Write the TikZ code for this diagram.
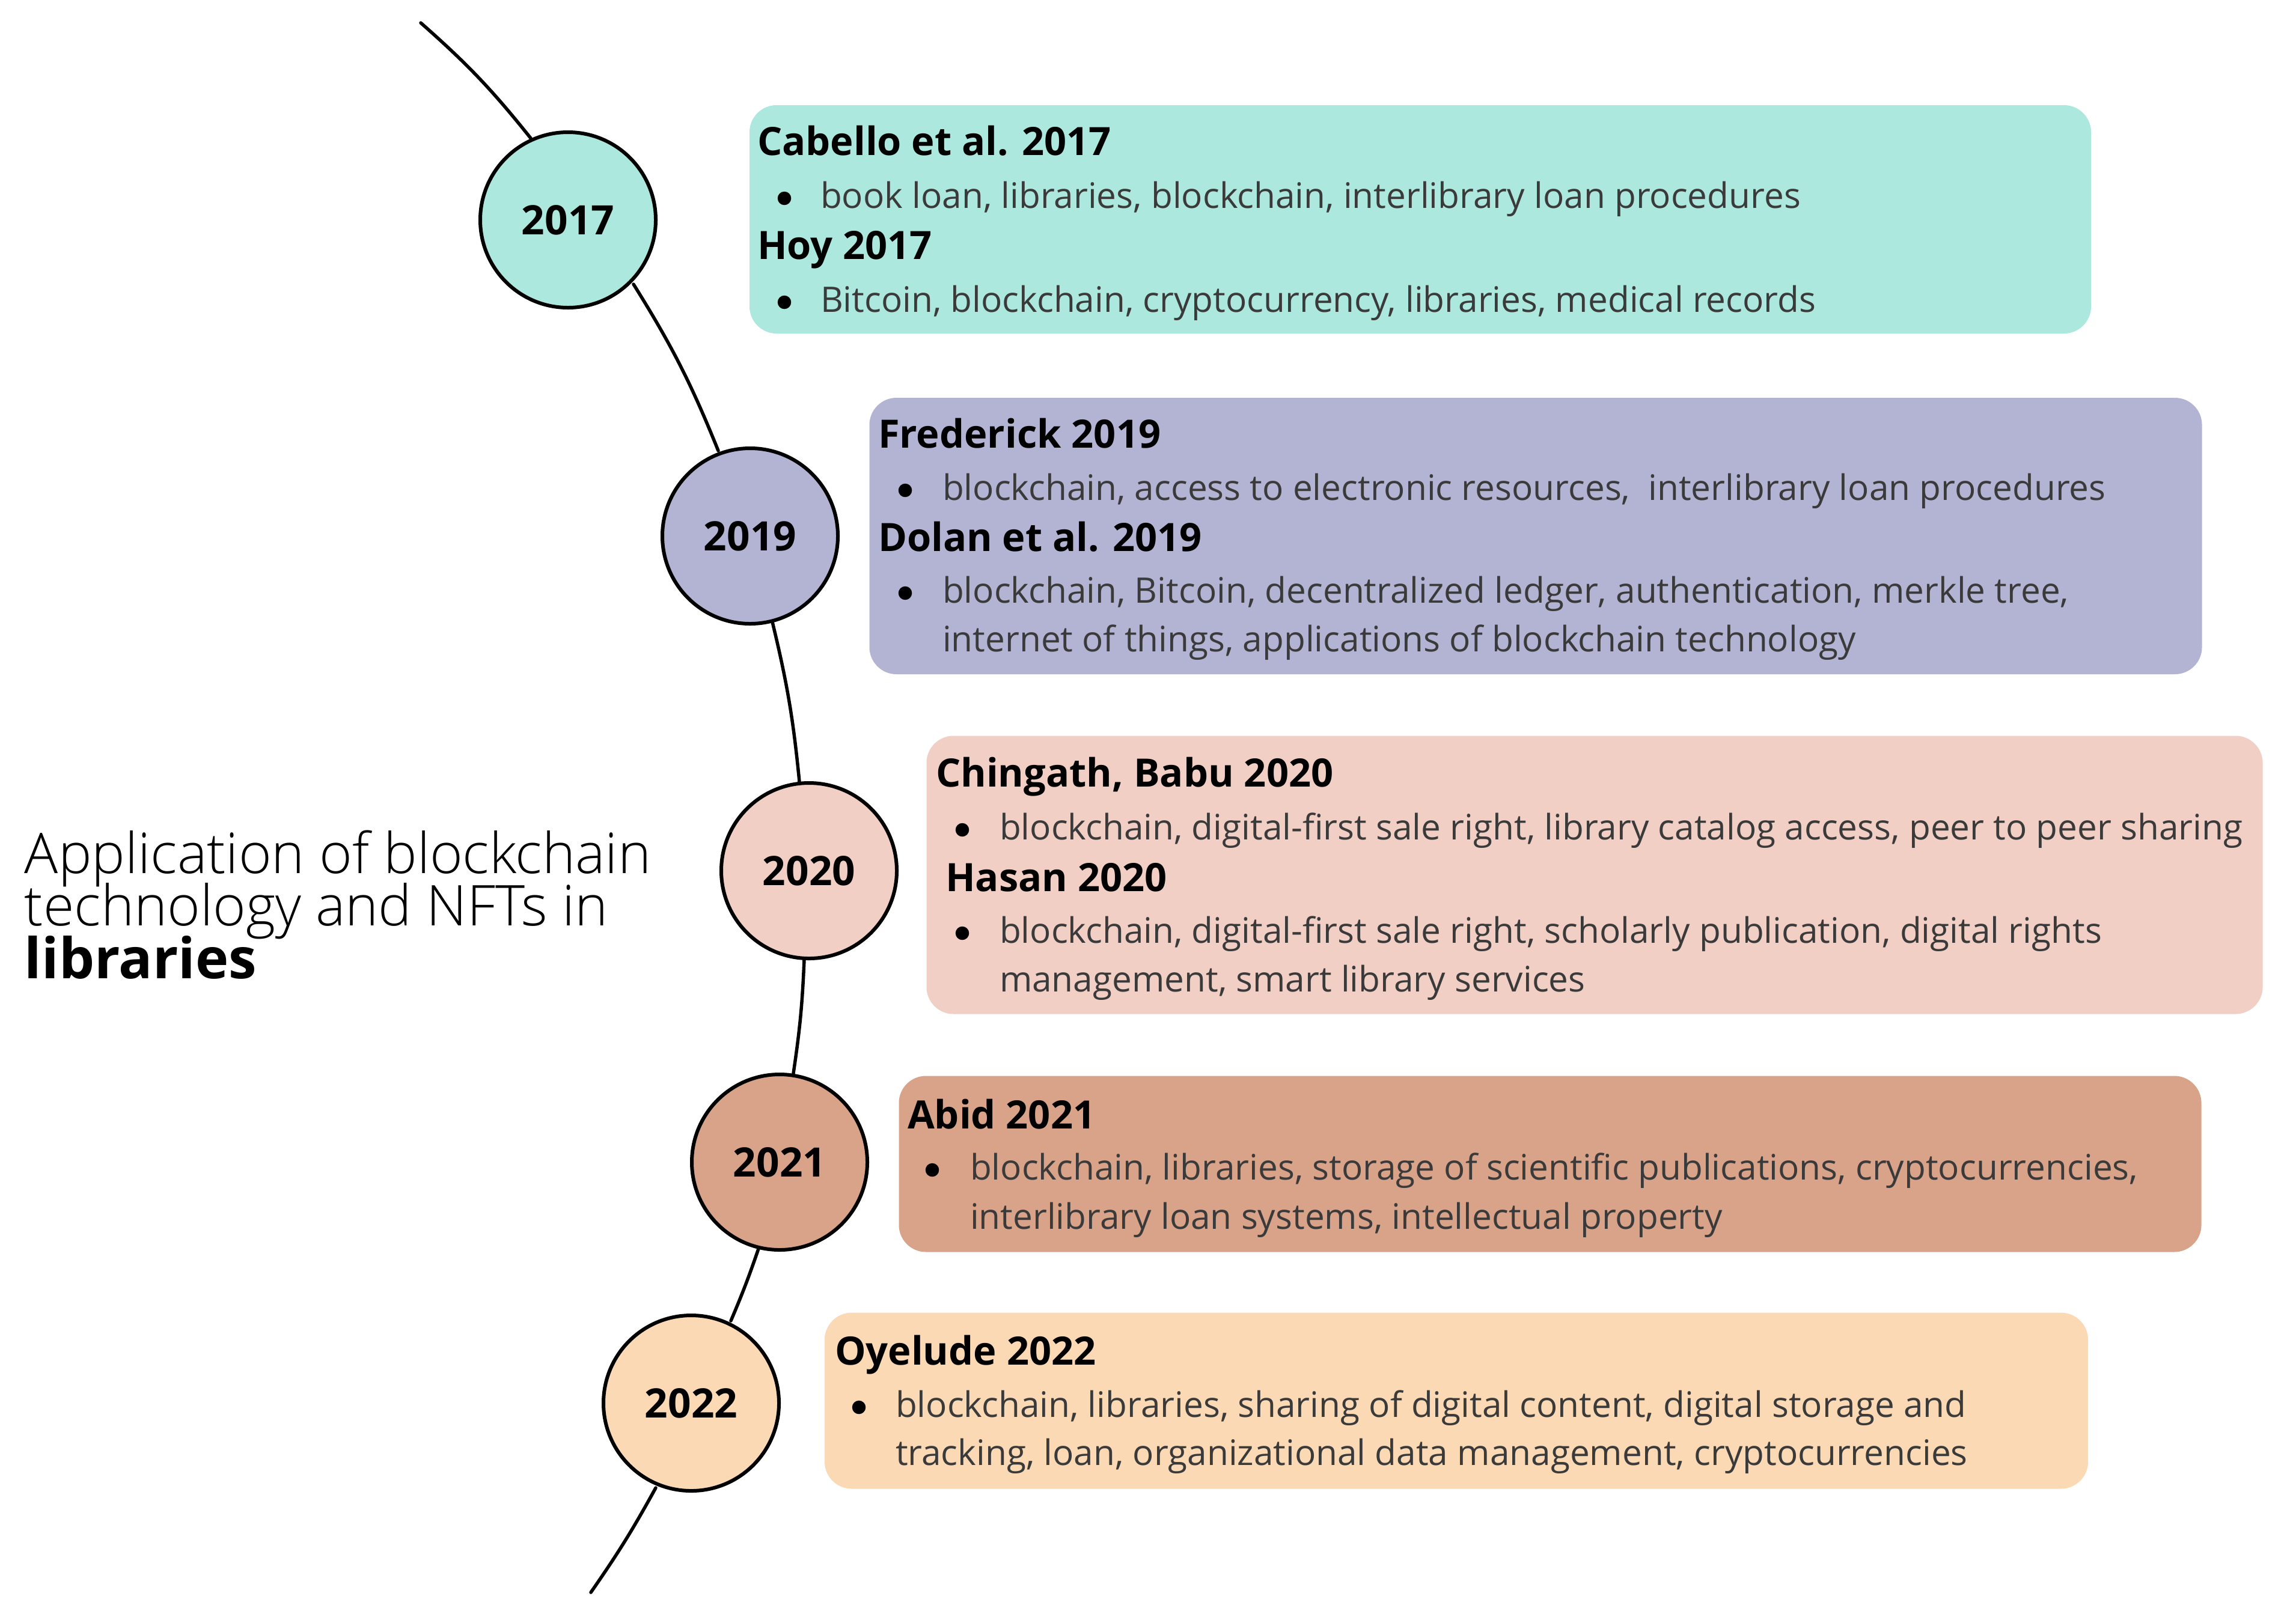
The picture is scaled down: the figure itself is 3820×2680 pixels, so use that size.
\documentclass[tikz,border=0pt]{standalone}
\usepackage{fontspec}
\setmainfont{Open Sans}
\IfFontExistsTF{Open Sans Light}{\newfontfamily\titlefont{Open Sans Light}}{\newfontfamily\titlefont{Open Sans}}
\definecolor{cA}{HTML}{ACE8DD}
\definecolor{cB}{HTML}{B3B3D3}
\definecolor{cC}{HTML}{F2CFC4}
\definecolor{cD}{HTML}{D9A389}
\definecolor{cE}{HTML}{FAD9B4}
\definecolor{bodygray}{HTML}{3A3A3A}
\begin{document}
\begin{tikzpicture}[x=0.2pt,y=-0.2pt,
  yearnode/.style={circle,draw=black,line width=1.2pt,minimum size=58.4pt,inner sep=0pt,
    font=\fontsize{13.5}{16}\selectfont\bfseries},
  card/.style={rounded corners=9pt,inner sep=0pt},
  head/.style={anchor=base west,inner sep=0pt,font=\fontsize{13}{15}\selectfont\bfseries},
  body/.style={anchor=base west,inner sep=0pt,text=bodygray,font=\fontsize{11.7}{14}\selectfont},
  bul/.style={circle,fill=black,inner sep=0pt,minimum size=4.5pt},
  titleline/.style={anchor=base west,inner sep=0pt,font=\titlefont\fontsize{18.7}{18}\selectfont},
  titlebold/.style={anchor=base west,inner sep=0pt,font=\fontsize{18.7}{18}\selectfont\bfseries},
  timeline/.style={line width=1.1pt,line cap=round},
]
\useasboundingbox (0,0) rectangle (3820,2680);
\fill[white] (0,0) rectangle (3820,2680);

% timeline coordinates (entry / exit points on the circles)
\coordinate (t0) at (700,38);
\coordinate (e17) at (883,230);
\coordinate (x17) at (1054,473);
\coordinate (e19) at (1195,750);
\coordinate (x19) at (1285,1035);
\coordinate (e20) at (1330,1301);
\coordinate (x20) at (1338,1597);
\coordinate (e21) at (1320,1786);
\coordinate (x21) at (1262,2078);
\coordinate (e22) at (1216,2198);
\coordinate (x22) at (1091,2476);
\coordinate (t1) at (983,2650);
\draw[timeline] (t0) to[bend left=5] (e17);
\draw[timeline] (x17) to[bend left=5] (e19);
\draw[timeline] (x19) to[bend left=4] (e20);
\draw[timeline] (x20) to[bend left=3] (e21);
\draw[timeline] (x21) to[bend left=2] (e22);
\draw[timeline] (x22) to[bend left=3] (t1);

% cards
\node[card,fill=cA,minimum width=446.4pt,minimum height=76pt] (box1) at (2363,365) {};
\node[card,fill=cB,minimum width=443.4pt,minimum height=92pt] (box2) at (2555,892) {};
\node[card,fill=cC,minimum width=444.6pt,minimum height=92.6pt] (box3) at (2653,1456) {};
\node[card,fill=cD,minimum width=433.4pt,minimum height=58.6pt] (box4) at (2579,1937) {};
\node[card,fill=cE,minimum width=420.4pt,minimum height=58.6pt] (box5) at (2423,2331) {};

% year circles
\node[yearnode,fill=cA] (c17) at (945,366) {2017};
\node[yearnode,fill=cB] (c19) at (1248,892) {2019};
\node[yearnode,fill=cC] (c20) at (1346,1449) {2020};
\node[yearnode,fill=cD] (c21) at (1297,1934) {2021};
\node[yearnode,fill=cE] (c22) at (1150,2335) {2022};

% title
\node[titleline] (ti1) at (40,1453) {Application of blockchain};
\node[titleline] (ti2) at (40,1540) {technology and NFTs in};
\node[titlebold] (ti3) at (40,1628) {libraries};

% box 1
\node[head] (h1a) at (1259,258) {Cabello et al. 2017};
\node[bul] (d1a) at (1305,330) {};
\node[body] (t1a) at (1364,346) {book loan, libraries, blockchain, interlibrary loan procedures};
\node[head] (h1b) at (1259,431) {Hoy 2017};
\node[bul] (d1b) at (1305,503) {};
\node[body] (t1b) at (1364,519) {Bitcoin, blockchain, cryptocurrency, libraries, medical records};

% box 2
\node[head] (h2a) at (1460,745) {Frederick 2019};
\node[bul] (d2a) at (1506,816) {};
\node[body] (t2a) at (1567,832) {blockchain, access to electronic resources,\ \ interlibrary loan procedures};
\node[head] (h2b) at (1460,917) {Dolan et al. 2019};
\node[bul] (d2b) at (1506,987) {};
\node[body] (t2b) at (1567,1003) {blockchain, Bitcoin, decentralized ledger, authentication, merkle tree,};
\node[body] (t2c) at (1567,1084) {internet of things, applications of blockchain technology};

% box 3
\node[head] (h3a) at (1556,1309) {Chingath, Babu 2020};
\node[bul] (d3a) at (1601,1381) {};
\node[body] (t3a) at (1662,1397) {blockchain, digital-first sale right, library catalog access, peer to peer sharing};
\node[head] (h3b) at (1572,1483) {Hasan 2020};
\node[bul] (d3b) at (1601,1553) {};
\node[body] (t3b) at (1662,1569) {blockchain, digital-first sale right, scholarly publication, digital rights};
\node[body] (t3c) at (1662,1650) {management, smart library services};

% box 4
\node[head] (h4a) at (1509,1878) {Abid 2021};
\node[bul] (d4a) at (1551,1947) {};
\node[body] (t4a) at (1613,1963) {blockchain, libraries, storage of scientific publications, cryptocurrencies,};
\node[body] (t4b) at (1613,2045) {interlibrary loan systems, intellectual property};

% box 5
\node[head] (h5a) at (1388,2271) {Oyelude 2022};
\node[bul] (d5a) at (1429,2342) {};
\node[body] (t5a) at (1489,2358) {blockchain, libraries, sharing of digital content, digital storage and};
\node[body] (t5b) at (1489,2438) {tracking, loan, organizational data management, cryptocurrencies};
\end{tikzpicture}
\end{document}
